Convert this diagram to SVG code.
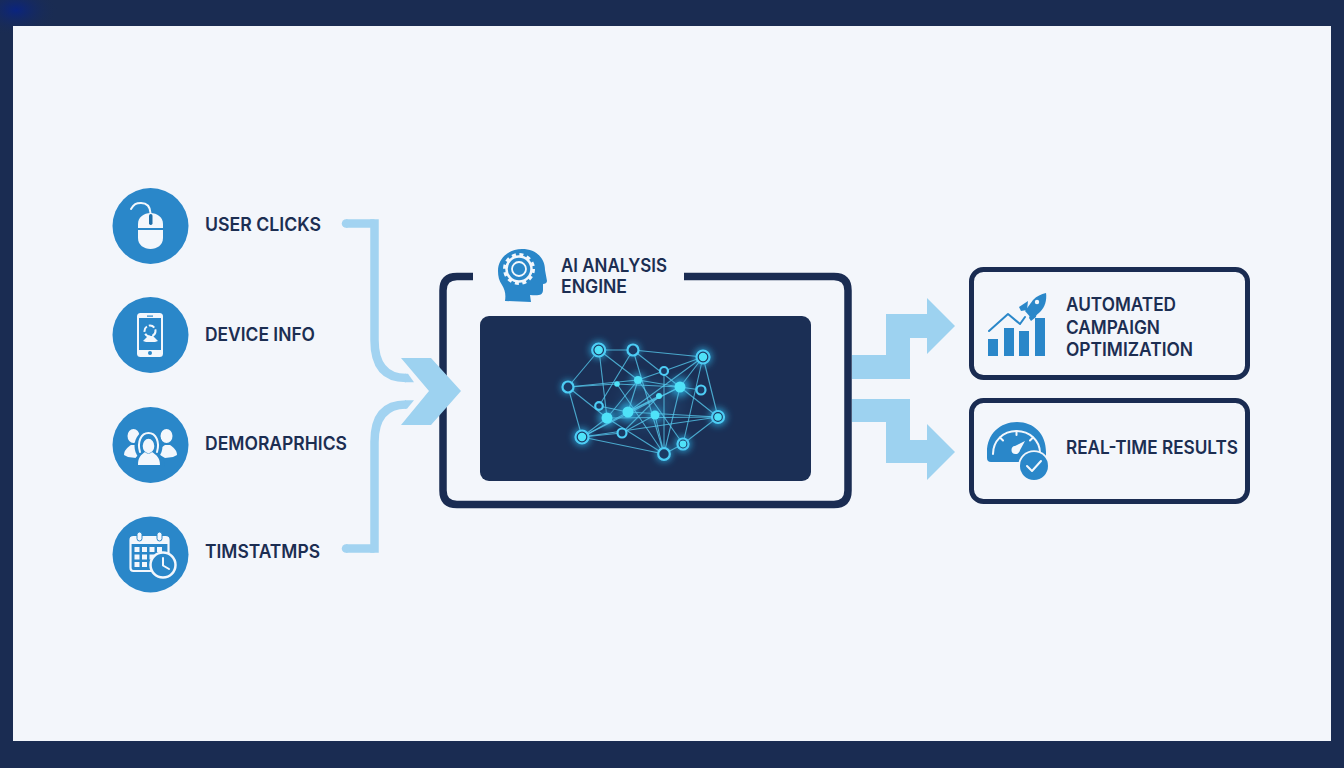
<svg xmlns="http://www.w3.org/2000/svg" width="1344" height="768" viewBox="0 0 1344 768">
<style>
.t{font-family:"Inter","Liberation Sans",sans-serif;font-weight:600;font-size:18.5px;fill:#1c2e52}
.c{fill:#2a87c9}
.w{fill:#f3f7fc}
.b{fill:#2a87c9}
.wl{fill:none;stroke:#f3f7fc;stroke-width:2;stroke-linecap:round;stroke-linejoin:round}
.bl{fill:none;stroke:#2a87c9;stroke-width:2;stroke-linecap:round;stroke-linejoin:round}
.arrow{fill:#9dd2f0}
.wire{fill:none;stroke:#a2d3f1;stroke-width:8.500}
.frame{fill:none;stroke:#1a2c52;stroke-linecap:butt}
.e{stroke:#55c6ea;stroke-width:1.100;opacity:.8}
.ring{fill:#1b3a64;stroke:#4dcdf5;stroke-width:2.200}
.core{fill:#4fe2f8}
</style>
<defs>
<radialGradient id="corner"><stop offset="0" stop-color="#0a2480"/><stop offset="1" stop-color="#1a2c52" stop-opacity="0"/></radialGradient>
<filter id="glow" x="-100%" y="-100%" width="300%" height="300%"><feGaussianBlur stdDeviation="3.500"/></filter>
<filter id="haze" x="-50%" y="-50%" width="200%" height="200%"><feGaussianBlur stdDeviation="10"/></filter>
</defs>
<rect width="1344" height="768" fill="#1a2c52"/>
<ellipse cx="16" cy="10" rx="42" ry="26" fill="url(#corner)"/>
<rect x="13" y="26" width="1318" height="715" fill="#f3f6fb"/>

<g id="connectors">
<path class="wire" d="M346 223.500H374.500"/>
<circle cx="346" cy="223.500" r="4.250" fill="#a2d3f1"/>
<path class="wire" d="M374.500 219.250V340Q374.500 378 406 378"/>
<polygon fill="#a2d3f1" points="405,373.750 408,373.750 414,382.250 405,382.250"/>
<path class="wire" d="M346 548.500H374.500"/>
<circle cx="346" cy="548.500" r="4.250" fill="#a2d3f1"/>
<path class="wire" d="M374.500 552.750V442Q374.500 404.500 406 404.500"/>
<polygon fill="#a2d3f1" points="405,400.250 414,400.250 407,408.750 405,408.750"/>
<polygon class="arrow" points="852,355 886,355 886,314 927,314 927,298 955,326 927,354 927,338 910,338 910,379 852,379"/>
<polygon class="arrow" points="852,399 910,399 910,440 927,440 927,424 955,452 927,480 927,463 886,463 886,422 852,422"/>
</g>

<g id="node-user-clicks">
<circle class="c" cx="150.500" cy="226" r="38"/>
<path class="w" d="M150.500 213C157 213 163 217 163 224V238C163 245 157 249 150.500 249C144 249 138 245 138 238V224C138 217 144 213 150.500 213Z"/>
<path class="bl" d="M138 229H163" stroke-width="1.500"/>
<rect x="149" y="214" width="3.500" height="11" rx="1.700" fill="#1f6ea8"/>
<path class="wl" d="M150.500 213C150 206 146 203 141 203C136 203 134 204 131 209" stroke-width="2.200"/>
<text class="t" x="205" y="230.500" textLength="116" lengthAdjust="spacingAndGlyphs">USER CLICKS</text>
</g>

<g id="node-device-info">
<circle class="c" cx="150.500" cy="335" r="38"/>
<rect class="w" x="137" y="313" width="26" height="44" rx="3.500"/>
<rect class="b" x="139" y="318" width="22" height="32"/>
<circle cx="150" cy="331" r="5.500" fill="none" stroke="#f3f7fc" stroke-width="2" stroke-dasharray="6 2"/>
<path class="w" d="M143 341L148 336H153L158 341L155 342H146Z"/>
<rect class="b" x="147" y="315.500" width="6" height="1.200"/>
<circle class="b" cx="150" cy="353" r="2"/>
<text class="t" x="205" y="341" textLength="110" lengthAdjust="spacingAndGlyphs">DEVICE INFO</text>
</g>

<g id="node-demographics">
<circle class="c" cx="150.500" cy="445" r="38"/>
<g class="w">
<ellipse cx="133.500" cy="436" rx="6" ry="7"/>
<ellipse cx="166.500" cy="436" rx="6" ry="7"/>
<path d="M124 455C124 450 128 447 131 445H136L146 452L136 458L128 457Z"/>
<path d="M177 455C177 450 173 447 170 445H165L155 452L165 458L173 457Z"/>
</g>
<ellipse cx="148.500" cy="446" rx="14" ry="16" class="c"/>
<path class="c" d="M133 467C133 458 138 454 144 452H154C160 454 165 458 165 467Z"/>
<path class="wl" d="M140 452C137 442 141 433 148.500 433C156 433 160 442 157 452" stroke-width="2.200"/>
<ellipse cx="148.500" cy="446" rx="5.800" ry="7.200" class="w"/>
<path class="w" d="M145 452C141 455 138 457 138 465H160C160 457 156 455 152 452C150 454 147 454 145 452Z"/>
<text class="t" x="205" y="450" textLength="142" lengthAdjust="spacingAndGlyphs">DEMORAPRHICS</text>
</g>

<g id="node-timestamps">
<circle class="c" cx="150.500" cy="554.500" r="38"/>
<rect x="130.500" y="537" width="38" height="34" rx="3" fill="#2a87c9" stroke="#f3f7fc" stroke-width="2.200"/>
<rect class="w" x="130.500" y="537" width="38" height="7"/>
<rect class="w" x="137" y="532" width="5" height="9" rx="2.500" stroke="#2a87c9" stroke-width="1"/>
<rect class="w" x="157" y="532" width="5" height="9" rx="2.500" stroke="#2a87c9" stroke-width="1"/>
<g class="w">
<rect x="134.500" y="547" width="5" height="5"/><rect x="142" y="547" width="5" height="5"/><rect x="149.500" y="547" width="5" height="5"/><rect x="157" y="547" width="5" height="5"/>
<rect x="134.500" y="554.500" width="5" height="5"/><rect x="142" y="554.500" width="5" height="5"/><rect x="149.500" y="554.500" width="5" height="5"/>
<rect x="134.500" y="562" width="5" height="5"/><rect x="142" y="562" width="5" height="5"/>
</g>
<circle cx="163" cy="565" r="12.500" fill="#2a87c9" stroke="#f3f7fc" stroke-width="2.500"/>
<path class="wl" d="M163 558V565.500L169 569"/>
<text class="t" x="205" y="558" textLength="115" lengthAdjust="spacingAndGlyphs">TIMSTATMPS</text>
</g>

<g id="node-ai-engine">
<path class="frame" stroke-width="7.500" d="M473 276.500H457Q443 276.500 443 290.500V490.500Q443 504.500 457 504.500H834Q848 504.500 848 490.500V290.500Q848 276.500 834 276.500H684"/>
<rect x="480" y="316" width="331" height="165" rx="9" fill="#1b2f55"/>
<path class="b" d="M522 249C536 249 545 258 545 270L547 281C547 283 545 284 543 284V290C543 295 539 296 530 295L531 302L505 301C506 294 505 290 502 285C499 281 498 276 498 271C498 258 509 249 522 249Z"/>
<circle cx="519" cy="269" r="12.500" fill="none" stroke="#f3f7fc" stroke-width="2.500"/>
<circle cx="519" cy="269" r="14.500" fill="none" stroke="#f3f7fc" stroke-width="3" stroke-dasharray="4 3.590"/>
<circle cx="519" cy="269" r="7" fill="none" stroke="#f3f7fc" stroke-width="1.800"/>
<text class="t" x="561" y="272" textLength="106" lengthAdjust="spacingAndGlyphs">AI ANALYSIS</text>
<text class="t" x="561" y="293" textLength="66" lengthAdjust="spacingAndGlyphs">ENGINE</text>
</g>

<polygon class="arrow" points="401,358 431,358 461,391 431,425 401,425 429,391"/>

<g id="network">
<ellipse cx="650" cy="405" rx="28" ry="20" fill="#3a8fc4" opacity=".3" filter="url(#haze)"/>
<g fill="#2fbcf0" opacity=".7" filter="url(#glow)">
<circle cx="598.700" cy="350" r="9"/><circle cx="633" cy="350" r="7"/><circle cx="703" cy="357" r="9"/><circle cx="568" cy="387" r="7"/>
<circle cx="638" cy="380" r="7"/><circle cx="680" cy="387" r="10"/><circle cx="628" cy="412" r="10"/><circle cx="607" cy="418" r="9"/>
<circle cx="655" cy="415" r="7"/><circle cx="718" cy="417" r="9"/><circle cx="582" cy="437" r="9"/><circle cx="683" cy="444" r="8"/><circle cx="664" cy="454" r="8"/>
</g>
<g class="edges">
<line class="e" x1="599" y1="350" x2="633" y2="350"/><line class="e" x1="633" y1="350" x2="703" y2="357"/><line class="e" x1="599" y1="350" x2="568" y2="387"/>
<line class="e" x1="599" y1="350" x2="607" y2="418"/><line class="e" x1="599" y1="350" x2="638" y2="380"/><line class="e" x1="633" y1="350" x2="599" y2="406"/>
<line class="e" x1="633" y1="350" x2="680" y2="387"/><line class="e" x1="633" y1="350" x2="664" y2="454"/><line class="e" x1="703" y1="357" x2="664" y2="371"/>
<line class="e" x1="703" y1="357" x2="680" y2="387"/><line class="e" x1="703" y1="357" x2="718" y2="417"/><line class="e" x1="703" y1="357" x2="683" y2="444"/>
<line class="e" x1="703" y1="357" x2="628" y2="412"/><line class="e" x1="568" y1="387" x2="617" y2="384"/><line class="e" x1="568" y1="387" x2="582" y2="437"/>
<line class="e" x1="568" y1="387" x2="607" y2="418"/><line class="e" x1="568" y1="387" x2="638" y2="380"/><line class="e" x1="617" y1="384" x2="680" y2="387"/>
<line class="e" x1="638" y1="380" x2="664" y2="371"/><line class="e" x1="638" y1="380" x2="680" y2="387"/><line class="e" x1="638" y1="380" x2="628" y2="412"/>
<line class="e" x1="638" y1="380" x2="607" y2="418"/><line class="e" x1="638" y1="380" x2="683" y2="444"/><line class="e" x1="680" y1="387" x2="701" y2="390"/>
<line class="e" x1="680" y1="387" x2="718" y2="417"/><line class="e" x1="680" y1="387" x2="628" y2="412"/><line class="e" x1="680" y1="387" x2="664" y2="454"/>
<line class="e" x1="680" y1="387" x2="582" y2="437"/><line class="e" x1="617" y1="384" x2="664" y2="454"/><line class="e" x1="628" y1="412" x2="718" y2="417"/>
<line class="e" x1="607" y1="418" x2="718" y2="417"/><line class="e" x1="607" y1="418" x2="582" y2="437"/><line class="e" x1="607" y1="418" x2="664" y2="454"/>
<line class="e" x1="628" y1="412" x2="582" y2="437"/><line class="e" x1="655" y1="415" x2="622" y2="433"/><line class="e" x1="655" y1="415" x2="664" y2="454"/>
<line class="e" x1="582" y1="437" x2="664" y2="454"/><line class="e" x1="582" y1="437" x2="622" y2="433"/><line class="e" x1="582" y1="437" x2="718" y2="417"/>
<line class="e" x1="664" y1="454" x2="683" y2="444"/><line class="e" x1="683" y1="444" x2="718" y2="417"/><line class="e" x1="622" y1="433" x2="659" y2="396"/>
<line class="e" x1="599" y1="406" x2="628" y2="412"/><line class="e" x1="659" y1="396" x2="628" y2="412"/><line class="e" x1="664" y1="371" x2="664" y2="454"/>
</g>
<g class="nodes">
<circle class="ring" cx="598.700" cy="350" r="6.500"/><circle class="core" cx="598.700" cy="350" r="4.200"/>
<circle class="ring" cx="633" cy="350" r="5.500"/>
<circle class="ring" cx="703" cy="357" r="6.500"/><circle class="core" cx="703" cy="357" r="4.200"/>
<circle class="ring" cx="568" cy="387" r="5.500"/>
<circle class="ring" cx="664" cy="371" r="4" stroke-width="1.300"/>
<circle class="core" cx="638" cy="380" r="4"/>
<circle class="core" cx="617" cy="384" r="2.800"/>
<circle class="core" cx="680" cy="387" r="5.500"/>
<circle class="ring" cx="701" cy="390" r="4.500" stroke-width="1.500"/>
<circle class="core" cx="659" cy="396" r="3"/>
<circle class="ring" cx="599" cy="406" r="3.800" stroke-width="1.300"/>
<circle class="core" cx="628" cy="412" r="5.500"/>
<circle class="core" cx="607" cy="418" r="5.500"/>
<circle class="core" cx="655" cy="415" r="4.500"/>
<circle class="ring" cx="718" cy="417" r="6"/><circle class="core" cx="718" cy="417" r="3.800"/>
<circle class="ring" cx="622" cy="433" r="4.500" stroke-width="1.500"/>
<circle class="ring" cx="582" cy="437" r="6.500"/><circle class="core" cx="582" cy="437" r="4.200"/>
<circle class="ring" cx="683" cy="444" r="5.500"/><circle class="core" cx="683" cy="444" r="3.400"/>
<circle class="ring" cx="664" cy="454" r="5.800"/>
</g>
</g>

<g id="node-campaign">
<rect x="971.500" y="269.500" width="276" height="108" rx="12" fill="none" stroke="#1a2c52" stroke-width="5"/>
<g class="b">
<rect x="988" y="339" width="10" height="17"/><rect x="1004" y="328" width="10" height="28"/><rect x="1019" y="331" width="10" height="25"/><rect x="1035" y="318" width="10" height="38"/>
<path d="M1046 293C1047 300 1045 307 1040 312L1032 319L1025 311L1033 300C1037 296 1041 294 1046 293Z"/>
<path d="M1028 301L1019 307L1021 311L1027 310Z"/>
<path d="M1037 310L1036 317L1031 321L1029 318L1031 312Z"/>
</g>
<circle cx="1037" cy="302" r="2.200" fill="#f3f7fc"/>
<path class="bl" d="M989 331L1008 314L1020 324L1025 317" stroke-width="3"/>
<text class="t" x="1066" y="311" textLength="110" lengthAdjust="spacingAndGlyphs">AUTOMATED</text>
<text class="t" x="1066" y="334" textLength="94" lengthAdjust="spacingAndGlyphs">CAMPAIGN</text>
<text class="t" x="1066" y="356" textLength="127" lengthAdjust="spacingAndGlyphs">OPTIMIZATION</text>
</g>

<g id="node-results">
<rect x="971.500" y="400.500" width="276" height="101" rx="12" fill="none" stroke="#1a2c52" stroke-width="5"/>
<path class="b" d="M987 452C987 434 1000 422 1017 422C1034 422 1046 434 1046 452V456H1026L1020 462H991Q987 462 987 458Z"/>
<path class="wl" d="M993 454C993 441 1003 431 1016.500 431C1030 431 1040 441 1040 453" stroke-width="1.800"/>
<path class="wl" d="M1016.500 431V435M1000 437.500L1003 440.500M1033 437.500L1030 440.500" stroke-width="2"/>
<path d="M1013 447L1025 441L1019 452Z" fill="#f3f7fc"/>
<circle cx="1015.500" cy="450" r="4" fill="#f3f7fc"/>
<circle cx="1034" cy="466" r="15.800" fill="#f3f6fb"/>
<circle cx="1034" cy="466" r="14" class="b"/>
<path class="wl" d="M1027 466L1032 471L1041 461" stroke-width="2.800"/>
<text class="t" x="1066" y="454" textLength="172" lengthAdjust="spacingAndGlyphs">REAL-TIME RESULTS</text>
</g>
</svg>
